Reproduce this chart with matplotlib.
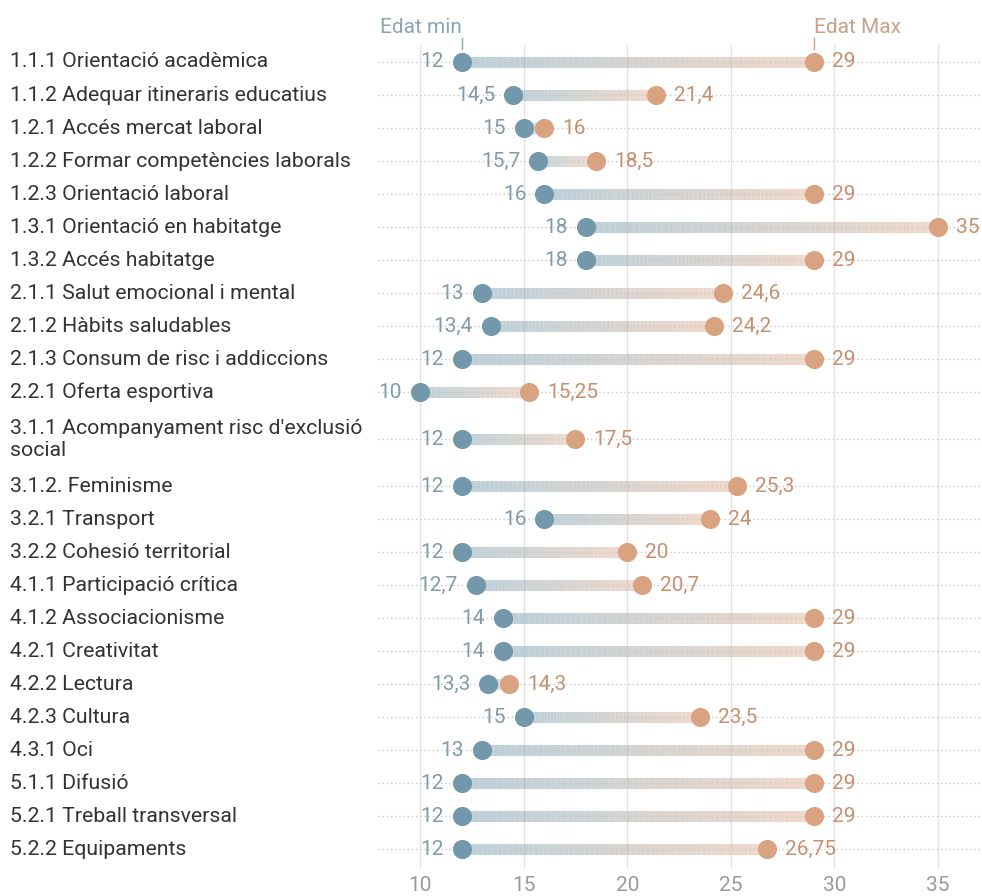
import numpy as np
import matplotlib.pyplot as plt
from matplotlib.collections import LineCollection
from matplotlib.colors import to_rgb

plt.rcParams['font.family'] = ['Roboto', 'DejaVu Sans']

categories = [
    "1.1.1 Orientació acadèmica",
    "1.1.2 Adequar itineraris educatius",
    "1.2.1 Accés mercat laboral",
    "1.2.2 Formar competències laborals",
    "1.2.3 Orientació laboral",
    "1.3.1 Orientació en habitatge",
    "1.3.2 Accés habitatge",
    "2.1.1 Salut emocional i mental",
    "2.1.2 Hàbits saludables",
    "2.1.3 Consum de risc i addiccions",
    "2.2.1 Oferta esportiva",
    "3.1.1 Acompanyament risc d'exclusió\nsocial",
    "3.1.2. Feminisme",
    "3.2.1 Transport",
    "3.2.2 Cohesió territorial",
    "4.1.1 Participació crítica",
    "4.1.2 Associacionisme",
    "4.2.1 Creativitat",
    "4.2.2 Lectura",
    "4.2.3 Cultura",
    "4.3.1 Oci",
    "5.1.1 Difusió",
    "5.2.1 Treball transversal",
    "5.2.2 Equipaments",
]
edat_min = [12, 14.5, 15, 15.7, 16, 18, 18, 13, 13.4, 12, 10, 12, 12, 16, 12,
            12.7, 14, 14, 13.3, 15, 13, 12, 12, 12]
edat_max = [29, 21.4, 16, 18.5, 29, 35, 29, 24.6, 24.2, 29, 15.25, 17.5, 25.3,
            24, 20, 20.7, 29, 29, 14.3, 23.5, 29, 29, 29, 26.75]
xticks = [10, 15, 20, 25, 30, 35]

c_min = '#7398ab'
c_max = '#d9a281'
c_min_txt = '#7f9cab'
c_max_txt = '#c6906f'


def fmt(v):
    return ('%g' % v).replace('.', ',')


# row positions: two-line labels take more room
heights = [1.85 if '\n' in c else 1.0 for c in categories]
ypos = []
acc = 0.0
for i, h in enumerate(heights):
    if i > 0:
        acc += heights[i - 1] / 2 + h / 2
    ypos.append(acc)

fig = plt.figure(figsize=(9.82, 8.96), dpi=100)
ax = fig.add_axes([378 / 982, 1 - 868 / 896, 604 / 982, (868 - 45) / 896])
ax.set_xlim(7.97, 37.12)
ax.set_ylim(24.42, -0.515)

for x in xticks:
    ax.axvline(x, color='#e3e3e3', lw=1, zorder=0)

cmin = np.array(to_rgb('#8fb0c0'))
cmax = np.array(to_rgb('#e6bea5'))
for y, lo, hi in zip(ypos, edat_min, edat_max):
    ax.plot([7.97, 37.12], [y, y], color='#c8c8c8', lw=1, ls=(0, (1, 2)), zorder=3)
    n = 60
    xs = np.linspace(lo, hi, n + 1)
    segs = [[(xs[k], y), (xs[k + 1], y)] for k in range(n)]
    t = np.linspace(0, 1, n)[:, None]
    cols = cmin * (1 - t) + cmax * t
    lc = LineCollection(segs, colors=cols, linewidths=8, alpha=0.6, zorder=2,
                        capstyle='butt')
    ax.add_collection(lc)
    ax.scatter([lo], [y], s=190, color=c_min, zorder=4, linewidths=0)
    ax.scatter([hi], [y], s=190, color=c_max, zorder=4, linewidths=0)
    ax.annotate(fmt(lo), (lo, y), xytext=(-13, 0), textcoords='offset points',
                ha='right', va='center', fontsize=15, color=c_min_txt, zorder=5)
    ax.annotate(fmt(hi), (hi, y), xytext=(13, 0), textcoords='offset points',
                ha='left', va='center', fontsize=15, color=c_max_txt, zorder=5)

for y, c in zip(ypos, categories):
    ax.text(-368 / 604, y, c, transform=ax.get_yaxis_transform(),
            ha='left', va='center', fontsize=15.3, color='#333333',
            linespacing=1.2)

# header labels
ax.annotate('Edat min', (edat_min[0], -0.35), xytext=(edat_min[0], -0.75),
            ha='right', va='bottom', fontsize=15, color='#8aa6b5',
            annotation_clip=False)
ax.annotate('Edat Max', (edat_max[0], -0.35), xytext=(edat_max[0], -0.75),
            ha='left', va='bottom', fontsize=15, color='#c9a088',
            annotation_clip=False)
ax.plot([edat_min[0], edat_min[0]], [-0.72, -0.4], color='#8aa6b5', lw=1,
        clip_on=False)
ax.plot([edat_max[0], edat_max[0]], [-0.72, -0.4], color='#c9a088', lw=1,
        clip_on=False)

ax.set_xticks(xticks)
ax.set_yticks([])
ax.tick_params(axis='x', length=0, labelsize=15, labelcolor='#9a9a9a', pad=6)
for s in ax.spines.values():
    s.set_visible(False)

fig.savefig('out.png', dpi=100)
